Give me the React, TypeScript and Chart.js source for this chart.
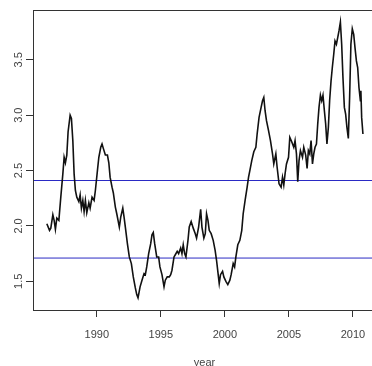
import React, { useEffect, useRef } from "react";
import { Chart, registerables } from "chart.js";

Chart.register(...registerables);

// Time axis (decimal years) and series values
const years = [
  1986.10, 1986.31, 1986.41, 1986.57, 1986.67, 1986.77, 1986.88, 1987.04, 1987.19, 1987.35,
  1987.45, 1987.55, 1987.66, 1987.76, 1987.92, 1988.02, 1988.13, 1988.23, 1988.33, 1988.44,
  1988.60, 1988.70, 1988.80, 1988.91, 1989.01, 1989.11, 1989.22, 1989.38, 1989.48, 1989.63,
  1989.79, 1989.89, 1990.05, 1990.16, 1990.31, 1990.41, 1990.51, 1990.67, 1990.83, 1990.94,
  1991.04, 1991.19, 1991.29, 1991.45, 1991.56, 1991.66, 1991.76, 1991.87, 1992.03, 1992.13,
  1992.23, 1992.39, 1992.54, 1992.70, 1992.85, 1993.01, 1993.12, 1993.22, 1993.38, 1993.53,
  1993.69, 1993.79, 1993.90, 1994.05, 1994.21, 1994.31, 1994.41, 1994.52, 1994.68, 1994.83,
  1994.93, 1995.09, 1995.25, 1995.35, 1995.50, 1995.66, 1995.77, 1995.87, 1996.03, 1996.13,
  1996.28, 1996.39, 1996.55, 1996.65, 1996.75, 1996.86, 1996.96, 1997.12, 1997.22, 1997.37,
  1997.53, 1997.69, 1997.79, 1997.95, 1998.11, 1998.21, 1998.36, 1998.47, 1998.57, 1998.68,
  1998.78, 1998.93, 1999.09, 1999.24, 1999.35, 1999.45, 1999.56, 1999.66, 1999.82, 1999.92,
  2000.08, 2000.23, 2000.39, 2000.49, 2000.65, 2000.76, 2000.86, 2001.01, 2001.17, 2001.32,
  2001.43, 2001.58, 2001.74, 2001.85, 2001.95, 2002.10, 2002.26, 2002.42, 2002.52, 2002.67,
  2002.83, 2002.94, 2003.04, 2003.14, 2003.25, 2003.41, 2003.56, 2003.72, 2003.82, 2003.98,
  2004.08, 2004.23, 2004.39, 2004.50, 2004.60, 2004.70, 2004.81, 2004.97, 2005.07, 2005.22,
  2005.38, 2005.48, 2005.59, 2005.69, 2005.79, 2005.90, 2006.06, 2006.16, 2006.31, 2006.42,
  2006.52, 2006.63, 2006.73, 2006.84, 2006.94, 2007.04, 2007.15, 2007.25, 2007.35, 2007.46,
  2007.56, 2007.66, 2007.77, 2007.87, 2007.97, 2008.08, 2008.18, 2008.29, 2008.39, 2008.50,
  2008.60, 2008.71, 2008.81, 2008.91, 2009.02, 2009.12, 2009.22, 2009.33, 2009.43, 2009.53,
  2009.64, 2009.74, 2009.84, 2009.95, 2010.06, 2010.16, 2010.27, 2010.37, 2010.47, 2010.58,
  2010.62, 2010.68, 2010.78,
];

const values = [
  2.02, 1.96, 1.98, 2.10, 2.05, 1.97, 2.07, 2.05, 2.26, 2.47,
  2.62, 2.57, 2.64, 2.85, 3.00, 2.97, 2.77, 2.47, 2.32, 2.26,
  2.22, 2.28, 2.16, 2.23, 2.13, 2.23, 2.12, 2.21, 2.16, 2.26,
  2.23, 2.32, 2.50, 2.62, 2.71, 2.74, 2.70, 2.64, 2.64, 2.57,
  2.44, 2.35, 2.30, 2.17, 2.11, 2.05, 1.99, 2.08, 2.16, 2.08,
  1.99, 1.84, 1.72, 1.66, 1.54, 1.44, 1.38, 1.35, 1.45, 1.51,
  1.57, 1.56, 1.63, 1.75, 1.84, 1.92, 1.94, 1.84, 1.72, 1.72,
  1.63, 1.56, 1.45, 1.51, 1.54, 1.54, 1.56, 1.60, 1.72, 1.74,
  1.77, 1.75, 1.80, 1.75, 1.83, 1.75, 1.72, 1.87, 1.99, 2.04,
  1.98, 1.93, 1.89, 1.99, 2.15, 1.99, 1.89, 1.93, 2.11, 2.05,
  1.96, 1.93, 1.87, 1.78, 1.69, 1.59, 1.48, 1.56, 1.59, 1.54,
  1.50, 1.47, 1.51, 1.56, 1.66, 1.63, 1.72, 1.83, 1.87, 1.96,
  2.11, 2.23, 2.35, 2.44, 2.50, 2.59, 2.67, 2.71, 2.83, 2.98,
  3.07, 3.13, 3.16, 3.04, 2.95, 2.86, 2.77, 2.65, 2.56, 2.65,
  2.53, 2.38, 2.35, 2.44, 2.37, 2.47, 2.56, 2.62, 2.80, 2.76,
  2.71, 2.77, 2.65, 2.40, 2.59, 2.68, 2.62, 2.71, 2.64, 2.52,
  2.68, 2.65, 2.77, 2.56, 2.65, 2.71, 2.74, 2.92, 3.07, 3.18,
  3.13, 3.18, 3.04, 2.92, 2.74, 2.89, 3.13, 3.31, 3.43, 3.55,
  3.67, 3.64, 3.70, 3.76, 3.84, 3.64, 3.34, 3.07, 3.01, 2.89,
  2.79, 3.16, 3.64, 3.78, 3.73, 3.61, 3.49, 3.43, 3.25, 3.13,
  3.22, 2.98, 2.83,
];

// Horizontal reference levels (blue lines)
const refLevels = [2.41, 1.71];

// Axis ticks and ranges
const xTicks = [1990, 1995, 2000, 2005, 2010];
const xTickLabels = ["1990", "1995", "2000", "2005", "2010"];
const yTicks = [1.5, 2.0, 2.5, 3.0, 3.5];
const yTickLabels = ["1.5", "2.0", "2.5", "3.0", "3.5"];
const xRange = [1985.02, 2011.8];
const yRange = [1.241, 3.953];
const xTitle = "year";

const FONT = "'Liberation Sans', Arial, Helvetica, sans-serif";
const TEXT = "#444";
const AXIS = "#333";

const rBoxAndLabels = {
  id: "rBoxAndLabels",
  afterDraw(chart: any) {
    const { ctx, chartArea } = chart;
    const ys = chart.scales.y;
    ctx.save();
    ctx.strokeStyle = AXIS;
    ctx.lineWidth = 1;
    const l = Math.round(chartArea.left) + 0.5;
    const t = Math.round(chartArea.top) + 0.5;
    const r = Math.round(chartArea.right) + 0.5;
    const b = Math.round(chartArea.bottom) + 0.5;
    ctx.strokeRect(l, t, r - l, b - t);
    ctx.fillStyle = TEXT;
    ctx.font = `11px ${FONT}`;
    ctx.textAlign = "center";
    ctx.textBaseline = "middle";
    yTicks.forEach((v, i) => {
      const py = ys.getPixelForValue(v);
      ctx.save();
      ctx.translate(19, py);
      ctx.rotate(-Math.PI / 2);
      ctx.fillText(yTickLabels[i], 0, 0);
      ctx.restore();
    });
    ctx.restore();
  },
};

export default function App() {
  const ref = useRef<HTMLCanvasElement | null>(null);

  useEffect(() => {
    if (!ref.current) return;
    const series = years.map((x, i) => ({ x, y: values[i] }));
    const refSets = refLevels.map((lvl) => ({
      data: [
        { x: xRange[0], y: lvl },
        { x: xRange[1], y: lvl },
      ],
      borderColor: "#2a2ac4",
      borderWidth: 1,
      pointRadius: 0,
      tension: 0,
    }));
    const chart = new Chart(ref.current, {
      type: "line",
      data: {
        datasets: [
          {
            data: series,
            borderColor: "#111",
            borderWidth: 1.6,
            pointRadius: 0,
            tension: 0,
          },
          ...refSets,
        ],
      },
      options: {
        responsive: false,
        animation: false,
        events: [],
        layout: { padding: { top: 9, right: 16, left: 0, bottom: 0 } },
        plugins: {
          legend: { display: false },
          tooltip: { enabled: false },
        },
        scales: {
          x: {
            type: "linear",
            min: xRange[0],
            max: xRange[1],
            afterBuildTicks: (s: any) => {
              s.ticks = xTicks.map((v) => ({ value: v }));
            },
            afterFit: (s: any) => {
              s.height = 60;
            },
            border: { display: false },
            grid: {
              drawOnChartArea: false,
              drawTicks: true,
              tickLength: 7,
              color: AXIS,
            },
            ticks: {
              autoSkip: false,
              maxRotation: 0,
              minRotation: 0,
              padding: 11,
              color: TEXT,
              font: { family: FONT, size: 11 },
              callback: (v: any) => {
                const i = xTicks.indexOf(Number(v));
                return i >= 0 ? xTickLabels[i] : "";
              },
            },
            title: {
              display: true,
              text: xTitle,
              color: TEXT,
              font: { family: FONT, size: 11 },
              padding: { top: 0, bottom: 0 },
            },
          },
          y: {
            type: "linear",
            min: yRange[0],
            max: yRange[1],
            afterBuildTicks: (s: any) => {
              s.ticks = yTicks.map((v) => ({ value: v }));
            },
            afterFit: (s: any) => {
              s.width = 33;
            },
            border: { display: false },
            grid: {
              drawOnChartArea: false,
              drawTicks: true,
              tickLength: 7,
              color: AXIS,
            },
            ticks: {
              color: "rgba(0,0,0,0)",
              font: { family: FONT, size: 11 },
            },
          },
        },
      },
      plugins: [rBoxAndLabels],
    });
    return () => chart.destroy();
  }, []);

  return (
    <div
      style={{
        position: "fixed",
        left: 0,
        top: 0,
        width: 372,
        height: 366,
        overflow: "hidden",
        background: "#fff",
      }}
    >
      <canvas
        ref={ref}
        width={392}
        height={370}
        style={{ width: 392, height: 370, display: "block" }}
      />
    </div>
  );
}
